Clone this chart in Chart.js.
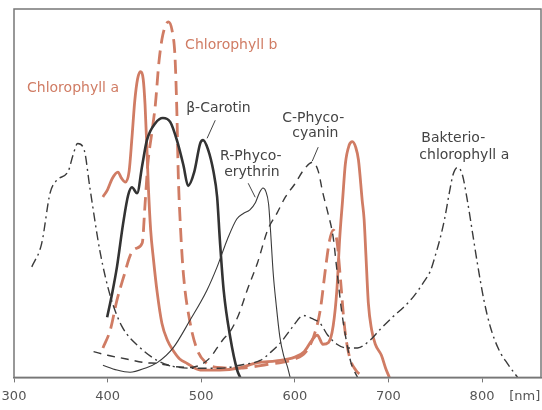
<!DOCTYPE html>
<html>
<head>
<meta charset="utf-8">
<script src="https://cdn.jsdelivr.net/npm/chart.js@4.4.1/dist/chart.umd.min.js"></script>
<style>
    body { margin: 0; background: #ffffff; }
    #contener { width: 542px; height: 410px; }
</style>
</head>
<body>
<div id="contener"><canvas id="spektrumCanvas"></canvas></div>
<script>
// Wellenlaenge [nm] und relative Absorption fuer jedes Pigment
const chlA_nm = [395, 400, 405, 411, 415, 419, 423, 426, 429, 432, 435, 438, 440, 442, 443.5, 446, 449, 453, 458, 464, 470, 477, 485, 499, 520, 540, 560, 580, 600, 610, 618, 624, 630, 636, 641, 645, 648, 651, 654, 658, 661.5, 665, 668, 672, 674, 676, 678.6, 682, 686, 692.5, 697, 701];
const chlA_abs = [49, 51, 54, 55.7, 54, 53, 56, 65, 75, 81, 83, 81, 74, 62, 52, 40, 32, 23, 14.7, 10, 7.3, 5, 3.8, 2, 2, 2.5, 4, 4.5, 5.5, 7, 10, 11.5, 9, 9.5, 14, 24, 38, 48, 58, 63, 64, 62.5, 59, 48, 43, 33, 20, 13, 9, 6, 2.5, 0];

const chlB_nm = [395, 403, 410, 418, 424, 430, 437, 440, 443, 447, 451, 455, 459, 465, 469, 472, 474, 475.5, 478, 481, 488, 496, 505, 517, 540, 570, 600, 612, 620, 627, 633, 637, 641, 645, 649, 653, 658, 665, 675];
const chlB_abs = [8, 13, 21, 28, 33, 35, 36.5, 47, 58, 66, 74, 86, 93, 96.5, 94, 87, 72, 55, 40, 28, 15, 7.3, 4, 2.7, 2.5, 3.5, 5, 7, 11, 18, 30, 37, 40, 37, 26, 14, 6, 2, 0];

const carot_nm = [399.5, 405, 410, 416.6, 422, 426, 431.5, 437, 442, 451, 459, 467, 474, 481, 486, 492.5, 499, 502, 507.5, 513, 517, 520, 524, 531, 538.5, 541.7];
const carot_abs = [16.3, 23, 30, 41.8, 49.5, 51.6, 50, 57.6, 64.4, 69, 70.4, 69.3, 64.4, 57.6, 52, 55.7, 63.6, 64.4, 61.7, 56, 49, 37, 23.6, 10.9, 1.9, 0];

const rPhyco_nm = [395, 410, 424, 440, 453, 470, 488, 506, 517, 528, 538, 545, 552, 558, 562, 566, 569, 572, 574, 577, 580, 584, 588, 592, 595];
const rPhyco_abs = [3.3, 2, 1.4, 2.5, 4, 8, 15.5, 23.6, 30, 37.5, 43, 44.5, 45.5, 47.5, 50, 51.4, 50.5, 47, 40, 28, 20, 11, 6, 3, 0];

const cPhyco_nm = [385, 400, 420, 440, 453, 470, 488, 500, 510, 517, 524, 531, 540, 549, 560, 571, 581, 590, 600, 610, 619, 625, 630, 635, 641, 645, 650, 655, 660, 667];
const cPhyco_abs = [7, 6, 5, 4, 3.8, 3, 2.7, 3.5, 5.5, 8, 10.5, 12.5, 17, 23.6, 31, 40, 44.6, 49, 52.5, 56.5, 58.4, 56, 50, 45, 38, 29, 18, 10, 4, 0];

const bchl_nm = [319, 329.6, 338.5, 345.6, 358, 363, 368, 375, 381, 392, 403, 415, 435, 453, 470, 490, 520, 545, 563, 575, 585, 597, 609, 618, 627, 635, 645, 655, 667, 680, 691, 705, 716, 727, 738, 745, 750, 755, 760, 765, 769, 774, 779, 784, 790, 795, 802, 809, 818, 827, 838];
const bchl_abs = [30, 36.4, 50, 53.5, 56, 60.3, 63.5, 61.7, 51.6, 34, 22, 14, 8, 4.6, 3, 2.5, 2.5, 3.5, 4.6, 7, 9.5, 13.5, 16.8, 16, 14.7, 11.5, 9, 8, 8, 10, 13, 16.5, 19, 22, 26, 29, 33, 37.5, 43, 50, 55, 57, 55, 48.5, 39, 31, 21, 13.6, 7.5, 3.8, 0];

const xTicks = [300, 400, 500, 600, 700, 800];

const rot = "#d07c64";
const dunkel = "#333333";

// Beschriftungen in Achsenwerten (nm, Absorption)
const beschriftungen = [
    { text: "Chlorophyll b", nm: 482.8, abs: 90.2, farbe: rot },
    { text: "Chlorophyll a", nm: 313.9, abs: 78.5, farbe: rot },
    { text: "β-Carotin", nm: 483.9, abs: 73.1, farbe: "#444" },
    { text: "R-Phyco-", nm: 520.2, abs: 60.1, farbe: "#444" },
    { text: "erythrin", nm: 524.5, abs: 55.7, farbe: "#444" },
    { text: "C-Phyco-", nm: 586.5, abs: 70.4, farbe: "#444" },
    { text: "cyanin", nm: 597.2, abs: 66.3, farbe: "#444" },
    { text: "Bakterio-", nm: 735.1, abs: 64.9, farbe: "#444" },
    { text: "chlorophyll a", nm: 733, abs: 60.3, farbe: "#444" }
];

// kurze Hinweisstriche von der Schrift zur Kurve
const striche = [
    [515, 69.8, 506.3, 64.9],
    [550.2, 52.7, 557.7, 48.9],
    [625, 62.5, 618.6, 58.7]
];

function punkte(xs, ys) {
    return xs.map((x, i) => ({ x: x, y: ys[i] }));
}

const rahmenUndText = {
    id: "rahmenUndText",
    afterDatasetsDraw(chart) {
        const ctx = chart.ctx;
        const area = chart.chartArea;
        const sx = chart.scales.x;
        const sy = chart.scales.y;
        ctx.save();
        ctx.strokeStyle = "#777";
        ctx.lineWidth = 1.5;
        ctx.strokeRect(area.left, area.top, area.right - area.left, area.bottom - area.top);

        ctx.font = "14px 'DejaVu Sans'";
        ctx.textBaseline = "middle";
        ctx.textAlign = "left";
        beschriftungen.forEach(b => {
            ctx.fillStyle = b.farbe;
            ctx.fillText(b.text, sx.getPixelForValue(b.nm), sy.getPixelForValue(b.abs));
        });

        ctx.strokeStyle = "#444";
        ctx.lineWidth = 1;
        striche.forEach(s => {
            ctx.beginPath();
            ctx.moveTo(sx.getPixelForValue(s[0]), sy.getPixelForValue(s[1]));
            ctx.lineTo(sx.getPixelForValue(s[2]), sy.getPixelForValue(s[3]));
            ctx.stroke();
        });

        ctx.font = "13px 'DejaVu Sans'";
        ctx.fillStyle = "#555";
        ctx.fillText("[nm]", sx.getPixelForValue(829), area.bottom + 19);
        ctx.restore();
    }
};

function serie(name, xs, ys, farbe, breite, strich) {
    return {
        label: name,
        data: punkte(xs, ys),
        borderColor: farbe,
        borderWidth: breite,
        borderDash: strich,
        pointRadius: 0,
        fill: false,
        cubicInterpolationMode: "monotone"
    };
}

const spektrumCanvas = document.getElementById("spektrumCanvas");
const spektrumChart = new Chart(spektrumCanvas,
    {
        type: "line",
        data: {
            datasets: [
                serie("Bakteriochlorophyll a", bchl_nm, bchl_abs, "#3a3a3a", 1.4, [9, 4, 2, 4]),
                serie("C-Phycocyanin", cPhyco_nm, cPhyco_abs, "#3a3a3a", 1.4, [8, 6]),
                serie("R-Phycoerythrin", rPhyco_nm, rPhyco_abs, "#3a3a3a", 1.1, []),
                serie("β-Carotin", carot_nm, carot_abs, dunkel, 2.6, []),
                serie("Chlorophyll b", chlB_nm, chlB_abs, rot, 2.8, [14, 7]),
                serie("Chlorophyll a", chlA_nm, chlA_abs, rot, 2.8, [])
            ]
        },
        options: {
            responsive: true,
            maintainAspectRatio: false,
            animation: false,
            layout: {
                padding: { left: 14, top: 9, right: 1, bottom: 0 }
            },
            scales: {
                x: {
                    type: "linear",
                    min: 300,
                    max: 863,
                    afterBuildTicks: axis => {
                        axis.ticks = xTicks.map(v => ({ value: v }));
                    },
                    // die "300" darf ueber den linken Rand hinausragen
                    afterFit: axis => {
                        axis.paddingLeft = 0;
                        axis.paddingRight = 0;
                    },
                    border: { display: true, color: "#777", width: 1.5 },
                    grid: { display: true, drawOnChartArea: false, drawTicks: true, tickLength: 5, color: "#777" },
                    ticks: {
                        color: "#555",
                        padding: 6,
                        maxRotation: 0,
                        font: { family: "DejaVu Sans", size: 13 }
                    }
                },
                y: {
                    display: false,
                    min: 0,
                    max: 100
                }
            },
            plugins: {
                legend: { display: false },
                tooltip: { enabled: false }
            }
        },
        plugins: [rahmenUndText]
    });
</script>
</body>
</html>
